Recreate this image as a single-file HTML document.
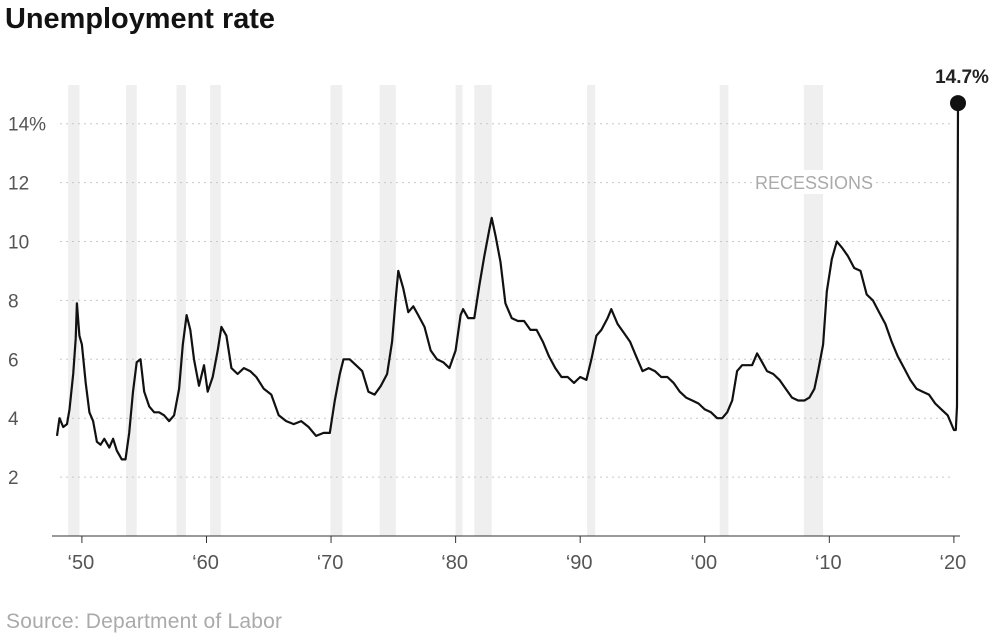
<!DOCTYPE html>
<html><head><meta charset="utf-8"><style>
body{margin:0;background:#fff;width:1000px;height:635px;overflow:hidden;font-family:"Liberation Sans",sans-serif}
</style></head><body>
<svg id="chart" width="1000" height="635" xmlns="http://www.w3.org/2000/svg">
<text x="5" y="28" font-size="29" font-weight="bold" fill="#121212" textLength="270" lengthAdjust="spacingAndGlyphs">Unemployment rate</text>
<text x="6" y="628" font-size="21" fill="#aaa" textLength="276">Source: Department of Labor</text>
<g id="bands"></g><g id="grid"></g><g id="xt"></g><g id="series"></g>
</svg>
<script>
const recessionStarts=[1948.9,1953.55,1957.6,1960.3,1969.95,1973.9,1980.0,1981.5,1990.55,2001.2,2007.95];
const recessionEnds=[1949.8,1954.4,1958.35,1961.15,1970.9,1975.2,1980.55,1982.9,1991.2,2001.9,2009.5];
const yTicks=[2,4,6,8,10,12,14];
const xTickYears=[1950,1960,1970,1980,1990,2000,2010,2020];
const xTickLabels=["‘50","‘60","‘70","‘80","‘90","‘00","‘10","‘20"];
const points=[[1948.0,3.4],[1948.2,4.0],[1948.5,3.7],[1948.8,3.8],[1949.0,4.3],[1949.3,5.5],[1949.5,6.7],[1949.6,7.9],[1949.8,6.8],[1950.0,6.5],[1950.3,5.2],[1950.6,4.2],[1950.9,3.9],[1951.2,3.2],[1951.5,3.1],[1951.8,3.3],[1952.2,3.0],[1952.5,3.3],[1952.8,2.9],[1953.2,2.6],[1953.5,2.6],[1953.8,3.5],[1954.1,4.9],[1954.4,5.9],[1954.7,6.0],[1955.0,4.9],[1955.4,4.4],[1955.8,4.2],[1956.2,4.2],[1956.6,4.1],[1957.0,3.9],[1957.4,4.1],[1957.8,5.0],[1958.1,6.5],[1958.4,7.5],[1958.7,7.0],[1959.0,6.0],[1959.4,5.1],[1959.8,5.8],[1960.1,4.9],[1960.5,5.4],[1960.9,6.3],[1961.2,7.1],[1961.6,6.8],[1962.0,5.7],[1962.5,5.5],[1963.0,5.7],[1963.5,5.6],[1964.0,5.4],[1964.6,5.0],[1965.2,4.8],[1965.8,4.1],[1966.4,3.9],[1967.0,3.8],[1967.6,3.9],[1968.2,3.7],[1968.8,3.4],[1969.4,3.5],[1969.9,3.5],[1970.3,4.6],[1970.7,5.5],[1971.0,6.0],[1971.5,6.0],[1972.0,5.8],[1972.5,5.6],[1973.0,4.9],[1973.5,4.8],[1974.0,5.1],[1974.5,5.5],[1974.9,6.6],[1975.2,8.1],[1975.4,9.0],[1975.8,8.4],[1976.2,7.6],[1976.6,7.8],[1977.0,7.5],[1977.5,7.1],[1978.0,6.3],[1978.5,6.0],[1979.0,5.9],[1979.5,5.7],[1980.0,6.3],[1980.4,7.5],[1980.6,7.7],[1981.0,7.4],[1981.5,7.4],[1981.9,8.5],[1982.3,9.5],[1982.7,10.4],[1982.9,10.8],[1983.2,10.2],[1983.6,9.3],[1984.0,7.9],[1984.5,7.4],[1985.0,7.3],[1985.5,7.3],[1986.0,7.0],[1986.5,7.0],[1987.0,6.6],[1987.5,6.1],[1988.0,5.7],[1988.5,5.4],[1989.0,5.4],[1989.5,5.2],[1990.0,5.4],[1990.5,5.3],[1990.9,6.0],[1991.3,6.8],[1991.7,7.0],[1992.2,7.4],[1992.5,7.7],[1993.0,7.2],[1993.5,6.9],[1994.0,6.6],[1994.5,6.1],[1995.0,5.6],[1995.5,5.7],[1996.0,5.6],[1996.5,5.4],[1997.0,5.4],[1997.5,5.2],[1998.0,4.9],[1998.5,4.7],[1999.0,4.6],[1999.5,4.5],[2000.0,4.3],[2000.5,4.2],[2001.0,4.0],[2001.4,4.0],[2001.8,4.2],[2002.2,4.6],[2002.6,5.6],[2003.0,5.8],[2003.4,5.8],[2003.8,5.8],[2004.2,6.2],[2004.6,5.9],[2005.0,5.6],[2005.5,5.5],[2006.0,5.3],[2006.5,5.0],[2007.0,4.7],[2007.5,4.6],[2008.0,4.6],[2008.4,4.7],[2008.8,5.0],[2009.1,5.6],[2009.5,6.5],[2009.8,8.3],[2010.2,9.4],[2010.6,10.0],[2011.0,9.8],[2011.5,9.5],[2012.0,9.1],[2012.5,9.0],[2013.0,8.2],[2013.5,8.0],[2014.0,7.6],[2014.5,7.2],[2015.0,6.6],[2015.5,6.1],[2016.0,5.7],[2016.5,5.3],[2017.0,5.0],[2017.5,4.9],[2018.0,4.8],[2018.5,4.5],[2019.0,4.3],[2019.5,4.1],[2020.0,3.6],[2020.15,3.6],[2020.25,4.4],[2020.33,14.7]];
const X0=57,X1=958,Y0=536,PX=29.45;
const xs=y=>X0+(y-1948)*(X1-X0)/(2020.33-1948);
const ys=v=>Y0-v*PX;
const NS="http://www.w3.org/2000/svg";
function mk(t,a,p){const e=document.createElementNS(NS,t);for(const k in a)e.setAttribute(k,a[k]);p.appendChild(e);return e;}
const bands=document.getElementById('bands');
recessionStarts.forEach((s,i)=>{
 const r=mk('rect',{x:xs(s),y:85,width:Math.max(3,xs(recessionEnds[i])-xs(s)),height:Y0-85,fill:'#efefef'},bands);
 
 
});
const grid=document.getElementById('grid');
yTicks.forEach(v=>{
 const l=mk('line',{x1:60,x2:953,y1:ys(v),y2:ys(v),stroke:'#c8c8c8','stroke-dasharray':'2,4'},grid);
 
 
 const t=mk('text',{x:8,y:ys(v)+7,'font-size':19,fill:'#555'},grid);
 t.textContent=v===14?'14%':String(v);
 
 
});
const rl=mk('rect',{x:752,y:170,width:124,height:24,fill:'#fff'},grid);


const rt=mk('text',{x:755,y:189,'font-size':18,fill:'#aaa','textLength':118},grid);
rt.textContent='RECESSIONS';


const xt=document.getElementById('xt');
const ax=mk('line',{x1:52,x2:960,y1:Y0,y2:Y0,stroke:'#333','stroke-width':1},xt);


xTickYears.forEach((yr,i)=>{
 const tk=mk('line',{x1:xs(yr),x2:xs(yr),y1:Y0,y2:Y0+7,stroke:'#333'},xt);
 
 
 const t=mk('text',{x:xs(yr)-1,y:Y0+33,'font-size':20,fill:'#555','text-anchor':'middle'},xt);
 t.textContent=xTickLabels[i];
 
 
});
const g=document.getElementById('series');
const d=points.map((pt,i)=>(i?'L':'M')+xs(pt[0]).toFixed(1)+','+ys(pt[1]).toFixed(1)).join('');
const p=mk('path',{d:d,fill:'none',stroke:'#111','stroke-width':2.2,'stroke-linejoin':'round'},g);


const last=points[points.length-1];
const c=mk('circle',{cx:xs(last[0]),cy:ys(last[1]),r:8,fill:'#111'},g);


const lt=mk('text',{x:xs(last[0])+4,y:ys(last[1])-20,'font-size':19,'font-weight':'bold',fill:'#222','text-anchor':'middle'},g);
lt.textContent=last[1]+'%';


</script>
</body></html>
